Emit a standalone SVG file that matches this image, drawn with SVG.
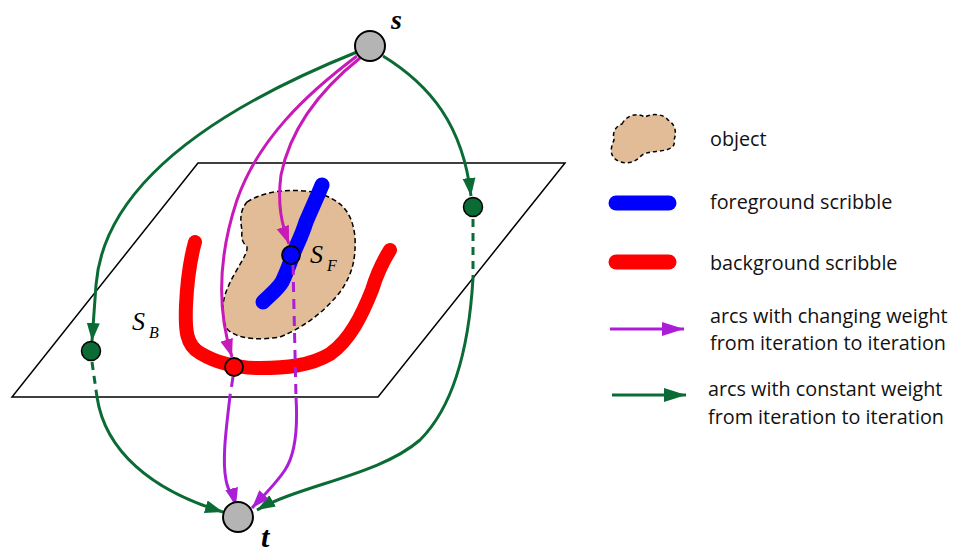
<svg xmlns="http://www.w3.org/2000/svg" width="960" height="555" viewBox="0 0 960 555">
<defs>
<style>
.g{fill:none;stroke:#0b6b35;stroke-width:3}
.gd{fill:none;stroke:#0b6b35;stroke-width:3;stroke-dasharray:8 6}
.m{fill:none;stroke:#c81ab8;stroke-width:3}
.p{fill:none;stroke:#aa1ed8;stroke-width:3}
.pd{fill:none;stroke:#aa1ed8;stroke-width:3;stroke-dasharray:10 7}
.node{fill:#b4b4b4;stroke:#000;stroke-width:2}
.lab{font-family:"Liberation Serif",serif;font-style:italic}
.leg{font-family:"Open Sans","Liberation Sans",sans-serif;font-size:19.8px;fill:#111}
</style>
<marker id="ag" markerUnits="userSpaceOnUse" markerWidth="20" markerHeight="14" refX="18" refY="7" orient="auto"><path d="M0,0.5 L18,7 L0,13.5 Z" fill="#0b6b35"/></marker>
<marker id="am" markerUnits="userSpaceOnUse" markerWidth="20" markerHeight="14" refX="18" refY="7" orient="auto"><path d="M0,0.5 L18,7 L0,13.5 Z" fill="#c81ab8"/></marker>
<marker id="ap" markerUnits="userSpaceOnUse" markerWidth="20" markerHeight="14" refX="18" refY="7" orient="auto"><path d="M0,0.5 L18,7 L0,13.5 Z" fill="#aa1ed8"/></marker>
<marker id="agL" markerUnits="userSpaceOnUse" markerWidth="24" markerHeight="16" refX="22" refY="8" orient="auto"><path d="M0,1 L22,8 L0,15 Z" fill="#0b6b35"/></marker>
<marker id="apL" markerUnits="userSpaceOnUse" markerWidth="24" markerHeight="16" refX="22" refY="8" orient="auto"><path d="M0,1 L22,8 L0,15 Z" fill="#aa1ed8"/></marker>
</defs>
<rect width="960" height="555" fill="#fff"/>

<g id="plane">
<path d="M198,163 L565,163 L378,397 L12,397 Z" fill="none" stroke="#000" stroke-width="1.5"/>
</g>

<g id="object">
<path d="M247,202 C265,190 295,188 318,193 C340,200 352,210 355,237 C356,260 352,275 340,292 C330,305 310,325 280,337 C260,340 240,340 228,330 C220,318 222,300 228,287 C235,270 248,255 247,247 C240,240 242,235 242,230 C240,220 240,210 247,202 Z" fill="#e2bc96" stroke="#000" stroke-width="1.5" stroke-dasharray="5 3"/>
</g>

<g id="SF-scribble">
<path d="M263,302 C270,295 277,290 282,282 C288,270 290,262 294,252 C298,242 302,235 306,222 C312,208 318,195 322,185" fill="none" stroke="#0000ff" stroke-width="15" stroke-linecap="round"/>
</g>

<g id="SB-scribble">
<path d="M195,242 C190,260 187,285 186,305 C185,330 186,345 200,353 C215,362 235,368 260,368 C285,368 310,366 330,354 C350,340 362,315 372,290 C378,270 385,258 390,250" fill="none" stroke="#ff0000" stroke-width="14" stroke-linecap="round"/>
</g>

<g id="connectors">
<path class="g" d="M357,52 C250,95 105,170 96,285 L92,341" marker-end="url(#ag)"/>
<path class="g" d="M383,56 C430,85 463,125 471,196" marker-end="url(#ag)"/>
<path class="gd" d="M92,362 L97,397"/>
<path class="g" d="M97,397 C105,450 150,490 223,512" marker-end="url(#ag)"/>
<path class="gd" d="M473,219 L473,278"/>
<path class="g" d="M473,278 C470,330 460,400 420,440 C380,475 300,485 257,510" marker-end="url(#ag)"/>
<path class="m" d="M357,56 C305,95 258,140 237,200 C222,245 214,300 232,357" marker-end="url(#am)"/>
<path class="m" d="M360,58 C320,90 290,130 281,175 C277,205 282,225 289,244" marker-end="url(#am)"/>
<path class="pd" d="M233,377 L230,396"/>
<path class="p" d="M230,396 C226,430 222,460 226,480 C228,492 234,498 236,506" marker-end="url(#ap)"/>
<path class="pd" d="M293,265 L296,397"/>
<path class="p" d="M296,397 C298,430 295,455 285,470 C275,485 262,497 252,508" marker-end="url(#ap)"/>
</g>

<g id="s"><circle class="node" cx="370" cy="46" r="15"/><text class="lab" x="391" y="29" font-size="28" font-weight="bold">s</text></g>
<g id="t"><circle class="node" cx="238" cy="517" r="15"/><text class="lab" x="261" y="547" font-size="30" font-weight="bold">t</text></g>
<g id="gL"><circle cx="91" cy="351" r="9.5" fill="#0b6b35" stroke="#000" stroke-width="1.5"/></g>
<g id="gR"><circle cx="473" cy="207" r="9.5" fill="#0b6b35" stroke="#000" stroke-width="1.5"/></g>
<g id="SF"><circle cx="291" cy="255" r="9" fill="#0000ff" stroke="#000" stroke-width="1.8"/>
<text class="lab" x="310" y="263" font-size="26">S</text><text class="lab" x="327" y="271" font-size="16">F</text></g>
<g id="SB"><circle cx="234" cy="367" r="9" fill="#ff0000" stroke="#000" stroke-width="1.8"/>
<text class="lab" x="132" y="330" font-size="26">S</text><text class="lab" x="149" y="338" font-size="16">B</text></g>

<g id="legend">
<path d="M622,124 C626,116 636,112 645,117 C652,113 664,114 668,120 C675,124 677,132 674,140 C676,148 668,150 660,151 C652,152 644,152 640,157 C632,165 620,164 614,158 C609,152 612,145 614,140 C612,132 616,126 622,124 Z" fill="#e2bc96" stroke="#000" stroke-width="1.5" stroke-dasharray="4 3"/>
<text class="leg" x="710" y="146">object</text>
<line x1="616" y1="203" x2="669" y2="203" stroke="#0000ff" stroke-width="15" stroke-linecap="round"/>
<text class="leg" x="710" y="209">foreground scribble</text>
<line x1="616" y1="262" x2="669" y2="262" stroke="#ff0000" stroke-width="15" stroke-linecap="round"/>
<text class="leg" x="710" y="270">background scribble</text>
<line x1="610" y1="329" x2="684" y2="329" stroke="#aa1ed8" stroke-width="3" marker-end="url(#apL)"/>
<text class="leg" x="710" y="323">arcs with changing weight</text>
<text class="leg" x="710" y="350">from iteration to iteration</text>
<line x1="612" y1="395" x2="686" y2="395" stroke="#0b6b35" stroke-width="3" marker-end="url(#agL)"/>
<text class="leg" x="708" y="396">arcs with constant weight</text>
<text class="leg" x="708" y="424">from iteration to iteration</text>
</g>
</svg>
